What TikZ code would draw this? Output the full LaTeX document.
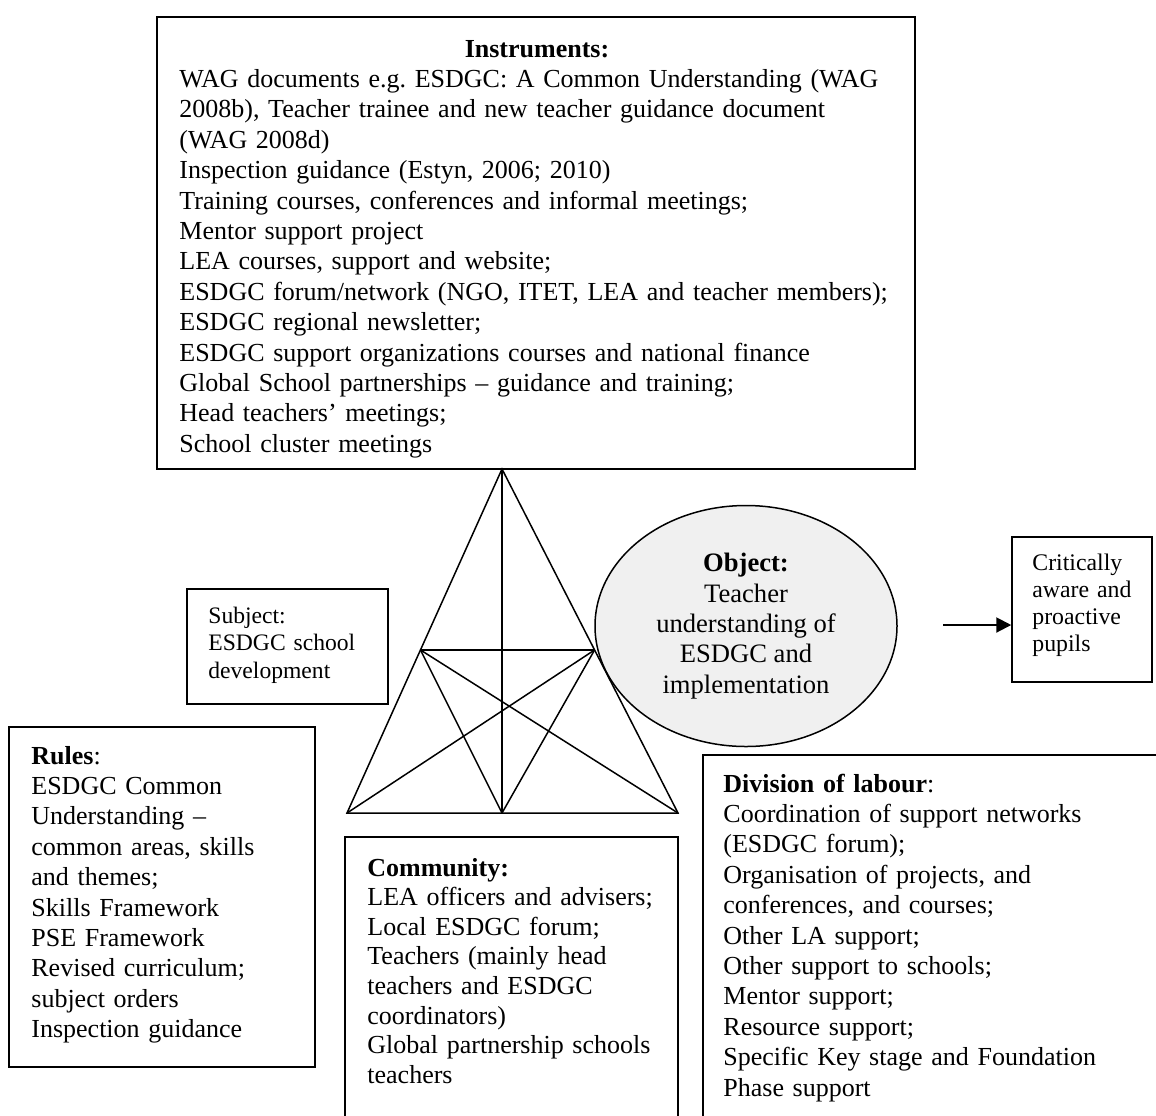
\documentclass[tikz,border=0pt]{standalone}
\usepackage{fontspec}
\setmainfont{Liberation Serif}
\usetikzlibrary{shapes.geometric,arrows.meta,fit,calc}
\definecolor{objfill}{RGB}{240,240,240}
\frenchspacing
\begin{document}
\begin{tikzpicture}[x=0.5pt,y=-0.5pt,
  frame/.style={draw, line width=0.75pt, inner sep=0pt},
  body/.style={inner sep=0pt, anchor=base west, align=left, text width=400pt,
    font=\fontsize{13pt}{15.2pt}\selectfont\frenchspacing},
  small/.style={inner sep=0pt, anchor=base west, align=left, text width=100pt,
    font=\fontsize{11.8pt}{13.75pt}\selectfont\frenchspacing},
  tri/.style={line width=0.75pt, line join=miter}]
\useasboundingbox (0,0) rectangle (1156,1115);
\clip (0,0) rectangle (1156,1115);

% activity system boxes
\node[frame, fit={(157,17) (915,469)}] (instr) {};
\node[frame, fit={(187,589) (388,704)}] (subj) {};
\node[frame, fit={(9,727) (315,1067)}] (rules) {};
\node[frame, fit={(345,837) (678,1140)}] (comm) {};
\node[frame, fit={(703,755) (1180,1140)}] (div) {};
\node[frame, fit={(1012,537) (1152,682)}] (crit) {};

% object ellipse
\node[ellipse, draw, line width=0.75pt, fill=objfill, inner sep=0pt,
  minimum width=151pt, minimum height=120.5pt, align=center,
  font=\fontsize{13.3pt}{15.2pt}\selectfont] (obj) at (746,626)
  {\textbf{Object:}\\ Teacher\\ understanding of\\ ESDGC and\\ implementation};

% mediating triangle
\coordinate (A) at (502,469);
\coordinate (BL) at (347,813);
\coordinate (BR) at (678,813);
\coordinate (BM) at (502,813);
\coordinate (LM) at ($(A)!0.526!(BL)$);
\coordinate (RM) at ($(A)!0.526!(BR)$);
\draw[tri] (A) -- (BL) -- (BR) -- cycle;
\draw[tri] (A) -- (BM);
\draw[tri] (LM) -- (RM);
\draw[tri] (LM) -- (BM);
\draw[tri] (LM) -- (BR);
\draw[tri] (RM) -- (BM);
\draw[tri] (RM) -- (BL);

% outcome arrow
\coordinate (arrowtail) at (943,625);
\draw[line width=1pt, -{Triangle[length=7.5pt,width=7.5pt]}]
  (arrowtail) -- (arrowtail -| crit.west);

% texts
\node[inner sep=0pt, anchor=base, font=\fontsize{13pt}{15.2pt}\selectfont]
  (instrtitle) at (537,57) {\textbf{Instruments:}};
\node[body] (instrtext) at (179,87.4)
  {WAG documents e.g. ESDGC: A Common Understanding (WAG\\
   2008b), Teacher trainee and new teacher guidance document\\
   (WAG 2008d)\\
   Inspection guidance (Estyn, 2006; 2010)\\
   Training courses, conferences and informal meetings;\\
   Mentor support project\\
   LEA courses, support and website;\\
   ESDGC forum/network (NGO, ITET, LEA and teacher members);\\
   ESDGC regional newsletter;\\
   ESDGC support organizations courses and national finance\\
   Global School partnerships – guidance and training;\\
   Head teachers’ meetings;\\
   School cluster meetings};

\node[small] (subjtext) at (208,623)
  {Subject:\\ ESDGC school\\ development};

\node[body] (rulestext) at (31,764)
  {\textbf{Rules}:\\ ESDGC Common\\ Understanding –\\ common areas, skills\\
   and themes;\\ Skills Framework\\ PSE Framework\\ Revised curriculum;\\
   subject orders\\ Inspection guidance};

\node[body, font=\fontsize{13pt}{14.8pt}\selectfont\frenchspacing]
  (commtext) at (367,876)
  {\textbf{Community:}\\ LEA officers and advisers;\\ Local ESDGC forum;\\
   Teachers (mainly head\\ teachers and ESDGC\\ coordinators)\\
   Global partnership schools\\ teachers};

\node[body] (divtext) at (723,792)
  {\textbf{Division of labour}:\\ Coordination of support networks\\
   (ESDGC forum);\\ Organisation of projects, and\\ conferences, and courses;\\
   Other LA support;\\ Other support to schools;\\ Mentor support;\\
   Resource support;\\ Specific Key stage and Foundation\\ Phase support};

\node[small, font=\fontsize{11.9pt}{13.5pt}\selectfont]
  (crittext) at (1032,570)
  {Critically\\ aware and\\ proactive\\ pupils};
\end{tikzpicture}
\end{document}
